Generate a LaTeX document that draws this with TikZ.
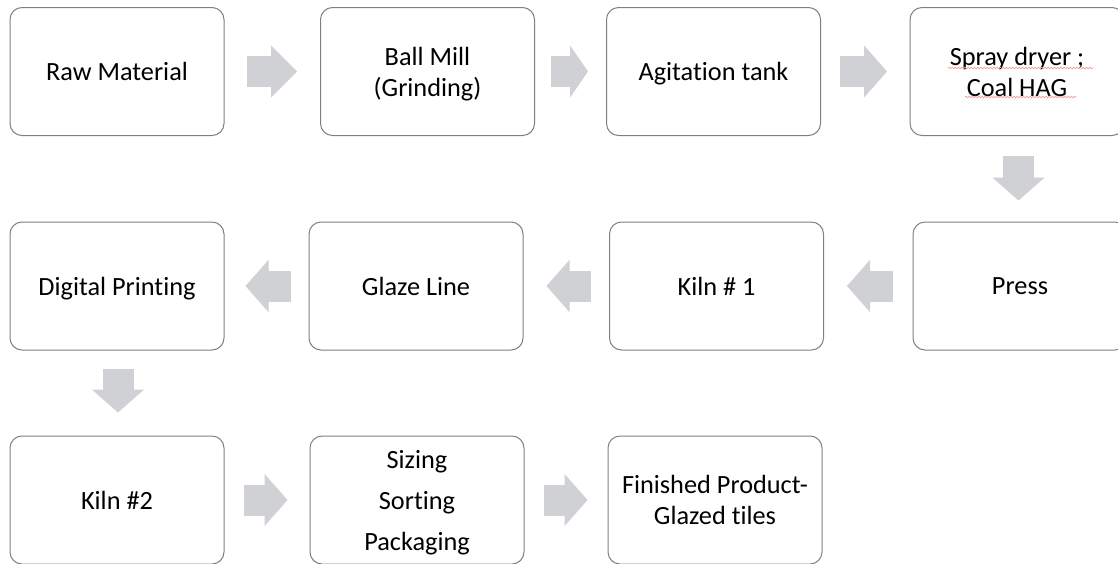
\documentclass[tikz,border=0pt]{standalone}
\usepackage{fontspec}
\setmainfont{Carlito}[Ligatures={NoCommon,NoContextual}]
\usetikzlibrary{arrows.meta,calc,decorations.pathmorphing}
\definecolor{boxline}{RGB}{128,128,128}
\definecolor{arrowgray}{RGB}{208,209,212}
\definecolor{squig}{RGB}{240,160,160}
\begin{document}
\begin{tikzpicture}[x=1pt,y=-1pt,
  box/.style={draw=boxline,line width=1pt,rounded corners=12pt,fill=white,
    minimum width=214pt,minimum height=128pt,align=center,inner sep=0pt,
    text depth=0pt,font=\fontsize{26.3}{31}\selectfont},
  blk/.style={draw=arrowgray,line width=31pt,
    -{Triangle[width=52pt,length=#1,line width=1pt]}},
  blk/.default=23pt,
  squiggle/.style={draw=squig,line width=0.7pt,decorate,
    decoration={snake,amplitude=0.8pt,segment length=3.2pt}}]
\clip (0,0) rectangle (1118,563);
\fill[white] (0,0) rectangle (1118,563);

\node[box] (raw) at (117,71.5) {Raw Material};
\node[box] (ball) at (427.5,71.5) {Ball Mill\\(Grinding)};
\node[box] (agit) at (713.5,71.5) {Agitation tank};
\node[box] (spray) at (1017,71.5) {Spray dryer ;\\Coal HAG};

\node[box] (digital) at (117,286) {Digital Printing};
\node[box] (glaze) at (416,286) {Glaze Line};
\node[box] (kiln1) at (716.5,286) {Kiln \# 1};
\node[box] (press) at (1020,286) {Press};

\node[box] (kiln2) at (117,500) {Kiln \#2};
\node[box] (sizing) at (417,500) {Sizing\\[10pt]Sorting\\[10pt]Packaging};
\node[box] (finished) at (715,500) {Finished Product-\\Glazed tiles};

\draw[blk=26pt] ([xshift=22pt]raw.east) -- ([xshift=-23pt]ball.west);
\draw[blk=18pt] ([xshift=16pt]ball.east) -- ([xshift=-18pt]agit.west);
\draw[blk] ([xshift=19pt]agit.east) -- ([xshift=-22.5pt]spray.west);
\draw[blk] ([xshift=1.5pt,yshift=-19.5pt]spray.south) -- ([xshift=1.5pt,yshift=21pt]spray.south |- press.north);
\draw[blk] ([xshift=-20pt]press.west) -- ([xshift=23pt]kiln1.east);
\draw[blk] ([xshift=-18pt]kiln1.west) -- ([xshift=23pt]glaze.east);
\draw[blk] ([xshift=-18pt]glaze.west) -- ([xshift=21pt]digital.east);
\draw[blk] ([xshift=1pt,yshift=-18pt]digital.south) -- ([xshift=1pt,yshift=23pt]kiln2.north);
\draw[blk] ([xshift=19pt]kiln2.east) -- ([xshift=-22pt]sizing.west);
\draw[blk] ([xshift=19pt]sizing.east) -- ([xshift=-20pt]finished.west);

\draw[squiggle] ($(spray.center)+(-69,-3.5)$) -- ++(145,0);
\draw[squiggle] ($(spray.center)+(-52,25.5)$) -- ++(111,0);
\end{tikzpicture}
\end{document}
